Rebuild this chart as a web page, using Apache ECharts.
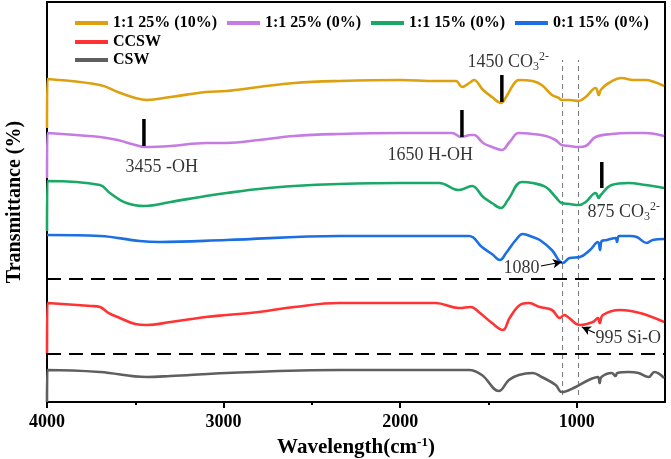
<!DOCTYPE html>
<html><head><meta charset="utf-8">
<script src="https://cdn.jsdelivr.net/npm/echarts@6/dist/echarts.min.js"></script>
<style>html,body{margin:0;padding:0;background:#fff}#c{width:671px;height:459px}</style>
</head><body><div id="c"></div>
<script>
// Offset transmittance (arbitrary units) vs wavenumber (cm-1)
const s1_1_25_10 = [[4000,274],[3998,323],[3700,317],[3600,310],[3500,304],[3435,302],[3300,305],[3100,310],[2983,311],[2800,315],[2600,319],[2345,321],[2000,322],[1800,321],[1684,321],[1650,315],[1600,320],[1582,322],[1530,312],[1480,305],[1429,299],[1400,305],[1360,317],[1328,322],[1250,321],[1198,317],[1140,307],[1102,304],[1085,302],[1040,302],[989,301],[949,305],[893,314],[875,307],[864,312],[819,319],[746,324],[680,322],[610,322],[560,320],[505,316]];
const s1_1_25_0 = [[4000,224],[3998,269],[3700,265],[3600,262],[3500,257],[3445,255],[3300,256],[3100,259],[2983,259],[2800,262],[2600,266],[2345,268],[2000,269],[1706,269],[1655,265],[1600,267],[1582,267],[1530,259],[1480,255],[1424,252],[1380,260],[1328,269],[1250,268],[1175,266],[1120,262],[1085,257],[1040,256],[989,255],[949,256],[893,265],[802,268],[700,269],[610,269],[505,266]];
const s1_1_15_0 = [[4000,171],[3998,221],[3700,217],[3644,209],[3550,199],[3446,196],[3300,200],[3100,206],[2983,209],[2800,213],[2600,216],[2345,218],[2000,219],[1780,219],[1667,212],[1593,216],[1530,205],[1480,199],[1429,194],[1390,202],[1311,220],[1250,219],[1175,215],[1120,205],[1085,199],[1040,198],[989,197],[949,200],[893,209],[875,204],[864,207],[802,217],[706,219],[610,217],[505,214]];
const s0_1_15_0 = [[4000,167],[3700,166],[3475,161],[3362,160],[2983,162],[2345,166],[1610,166],[1537,155],[1480,148],[1435,142],[1400,149],[1345,162],[1305,168],[1250,165],[1209,162],[1141,152],[1079,139],[1040,144],[982,145],[925,152],[880,160],[868,152],[858,161],[829,162],[780,164],[772,160],[760,166],[700,166],[660,165],[603,159],[570,162],[505,163]];
const sCCSW = [[4000,49],[3998,99],[3750,96],[3700,95],[3660,90],[3640,88],[3600,85],[3500,78],[3435,77],[3300,80],[3100,85],[2983,87],[2800,90],[2600,95],[2345,99],[2000,99],[1800,99],[1667,94],[1600,95],[1548,89],[1480,79],[1418,72],[1380,84],[1322,97],[1271,99],[1209,95],[1140,92],[1096,84],[1070,87],[1050,85],[982,77],[908,80],[880,84],[870,79],[852,87],[755,92],[642,89],[505,80]];
const sCSW = [[4000,0],[3998,32],[3700,30],[3435,25],[3300,26],[2983,29],[2345,32],[1610,32],[1537,27],[1441,11],[1384,22],[1328,27],[1250,29],[1198,25],[1119,17],[1085,10],[1006,15],[932,22],[880,25],[870,19],[860,25],[802,29],[780,26],[770,29],[706,30],[650,29],[593,25],[560,30],[505,24]];

const seriesNames = ['1:1 25% (10%)','1:1 25% (0%)','1:1 15% (0%)','0:1 15% (0%)','CCSW','CSW'];
const seriesColors = ['#DDA00F','#C67BE3','#19A866','#1B6FE3','#FF3333','#5F5F5F'];
const seriesData = [s1_1_25_10, s1_1_25_0, s1_1_15_0, s0_1_15_0, sCCSW, sCSW];

const xTickLabels = [4000, 3000, 2000, 1000];
const xMinorTicks = [3500, 2500, 1500];

const separators = [[[4000,123],[500,123]], [[4000,48],[500,48]]];
const guideLines = [[[1080,7],[1080,342]], [[990,7],[990,342]]];
const peakMarks = [[[1424,300],[1424,327]], [[1650,265],[1650,292]], [[3451,256],[3451,283]], [[858,214],[858,240]]];
const notes = [
  {value:[1622,340], text:'1450 CO{sub|3}{sup|2-}', pos:'right'},
  {value:[2075,247], text:'1650 H-OH', pos:'right'},
  {value:[3558,235], text:'3455 -OH', pos:'right'},
  {value:[942,190], text:'875 CO{sub|3}{sup|2-}', pos:'right'},
  {value:[1208,134], text:'1080', pos:'left'},
  {value:[897,64], text:'995 Si-O', pos:'right'}
];
const arrows = [[[1203,136],[1084,140]], [[897,69],[971,75]]];

const SERIF = '"Liberation Serif","Times New Roman",serif';
const chart = echarts.init(document.getElementById('c'));

const series = [];
seriesNames.forEach((n,i)=>{
  series.push({name:n, type:'line', data:seriesData[i], color:seriesColors[i], showSymbol:false, symbol:'none',
    smooth:0.4, lineStyle:{width:2.6, color:seriesColors[i]}, z:3});
});
separators.forEach(d=>series.push({type:'line', data:d, symbol:'none', silent:true,
  lineStyle:{color:'#000', width:2, type:[14,8]}, z:2}));
guideLines.forEach(d=>series.push({type:'line', data:d, symbol:'none', silent:true,
  lineStyle:{color:'#777', width:1, type:[5,4]}, z:1}));
peakMarks.forEach(d=>series.push({type:'line', data:d, symbol:'none', silent:true,
  lineStyle:{color:'#000', width:3.5}, z:4}));
series.push({type:'scatter', symbolSize:1, itemStyle:{color:'rgba(0,0,0,0)'}, silent:true, z:5,
  data: notes.map(n=>({value:n.value, label:{show:true, position:n.pos, distance:0, formatter:n.text}})),
  label:{show:true, color:'#000', fontFamily:SERIF, fontSize:18, lineHeight:22,
    rich:{sub:{fontSize:12, fontFamily:SERIF, color:'#000', verticalAlign:'bottom', lineHeight:12},
          sup:{fontSize:12, fontFamily:SERIF, color:'#000', verticalAlign:'top', lineHeight:12}}},
  labelLayout:{hideOverlap:false}
});
series.push({type:'line', data:[], silent:true,
  markLine:{silent:true, symbol:['none','arrow'], symbolSize:[7,9], label:{show:false},
    lineStyle:{color:'#000', width:1.2, type:'solid'},
    data: arrows.map(a=>[{coord:a[0]},{coord:a[1]}])}
});

const legendBase = {left:70, itemWidth:33, itemHeight:4, itemGap:10, icon:'rect',
  textStyle:{fontFamily:SERIF, fontWeight:'bold', fontSize:16, color:'#000', padding:[0,0,0,0]}};

chart.setOption({
  animation:false,
  backgroundColor:'#fff',
  grid:{left:47, right:6, top:2, bottom:57, show:true, borderColor:'#000', borderWidth:2, outerBoundsMode:'none', containLabel:false},
  legend:[
    Object.assign({}, legendBase, {top:10, data:seriesNames.slice(0,4)}),
    Object.assign({}, legendBase, {top:29, data:['CCSW']}),
    Object.assign({}, legendBase, {top:47, data:['CSW']})
  ],
  xAxis:[{
    type:'value', min:500, max:4000, inverse:true,
    name:'Wavelength(cm{sup|-1})', nameLocation:'middle', nameGap:30,
    nameTextStyle:{fontFamily:SERIF, fontWeight:'bold', fontSize:21, color:'#000', lineHeight:24,
      rich:{sup:{fontFamily:SERIF, fontWeight:'bold', fontSize:13, color:'#000', verticalAlign:'top', lineHeight:13}}},
    axisLine:{show:true, onZero:false, lineStyle:{color:'#000', width:2}},
    axisTick:{show:true, length:6, customValues:xTickLabels, lineStyle:{color:'#000', width:2}},
    axisLabel:{customValues:xTickLabels, formatter:v=>String(v), margin:11, fontFamily:SERIF, fontWeight:'bold', fontSize:18, color:'#000'},
    splitLine:{show:false}
  },{
    type:'value', min:500, max:4000, inverse:true, position:'bottom',
    axisLine:{show:false},
    axisTick:{show:true, length:3, customValues:xMinorTicks, lineStyle:{color:'#000', width:2}},
    axisLabel:{show:false}, splitLine:{show:false}
  }],
  yAxis:{
    type:'value', min:0, max:400,
    name:'Transmittance (%)', nameLocation:'middle', nameGap:22,
    nameTextStyle:{fontFamily:SERIF, fontWeight:'bold', fontSize:20, color:'#000'},
    axisLine:{show:true, onZero:false, lineStyle:{color:'#000', width:2}},
    axisTick:{show:false}, axisLabel:{show:false}, splitLine:{show:false}
  },
  series: series
});
</script></body></html>
